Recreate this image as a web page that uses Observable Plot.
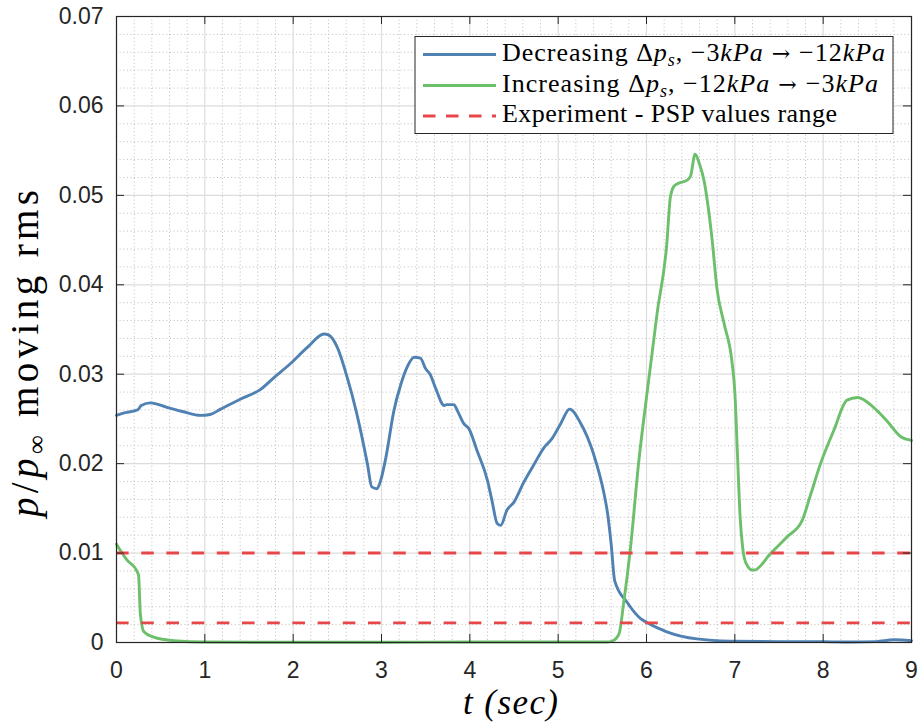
<!DOCTYPE html>
<html>
<head>
<meta charset="utf-8">
<script src="https://cdn.jsdelivr.net/npm/d3@7"></script>
<script src="https://cdn.jsdelivr.net/npm/@observablehq/plot@0.6"></script>
<style>
  html, body { margin: 0; padding: 0; background: #fff; }
</style>
</head>
<body>
<div id="chart"></div>
<script>
// ---- data ----
const decT = [0.00,0.10,0.20,0.25,0.28,0.385,0.57,0.76,0.95,1.06,1.18,1.40,1.63,1.78,1.97,2.16,2.35,2.40,2.50,2.61,2.72,2.84,2.89,2.95,2.99,3.05,3.14,3.22,3.29,3.37,3.44,3.50,3.55,3.61,3.71,3.74,3.82,3.86,3.93,3.99,4.08,4.20,4.25,4.31,4.35,4.42,4.50,4.61,4.72,4.84,4.93,5.03,5.13,5.25,5.40,5.52,5.56,5.60,5.64,5.78,5.93,6.01,6.23,6.57,6.95,7.5,8.0,8.3,8.6,8.8,9.0];
const decV = [0.0254,0.0257,0.0259,0.0261,0.0265,0.0268,0.0263,0.0258,0.0254,0.0255,0.0261,0.0272,0.0283,0.0296,0.0312,0.0330,0.0345,0.0344,0.0330,0.0297,0.0256,0.0200,0.0174,0.0172,0.0181,0.0207,0.0259,0.0289,0.0308,0.0319,0.0318,0.0306,0.0300,0.0285,0.0265,0.0266,0.0266,0.0259,0.0245,0.0239,0.0215,0.0181,0.0159,0.0133,0.0131,0.0148,0.0157,0.0179,0.0198,0.0218,0.0228,0.0245,0.0261,0.0246,0.0211,0.0166,0.0144,0.0110,0.0069,0.0045,0.0027,0.0022,0.0012,0.0004,0.00015,0.0001,0.0001,0.00005,0.0001,0.0003,0.0002];

const incT = [0.00,0.05,0.12,0.23,0.25,0.27,0.31,0.42,0.65,1.0,2.0,3.0,4.0,5.0,5.55,5.62,5.69,5.74,5.82,5.91,6.01,6.12,6.23,6.27,6.31,6.35,6.46,6.50,6.55,6.60,6.65,6.74,6.80,6.88,6.97,7.00,7.03,7.06,7.09,7.13,7.20,7.22,7.40,7.59,7.76,7.86,7.97,8.12,8.27,8.39,8.57,8.72,8.88,9.00];
const incV = [0.0110,0.0102,0.0092,0.0080,0.0075,0.0032,0.0012,0.0006,0.0002,0.00005,0.00003,0.00003,0.00005,0.00005,0.00005,0.0002,0.0010,0.0043,0.0107,0.0200,0.0282,0.0368,0.0446,0.0498,0.0510,0.0513,0.0517,0.0522,0.0546,0.0535,0.0517,0.0453,0.0394,0.0356,0.0312,0.0280,0.0210,0.0140,0.0105,0.0088,0.0081,0.0081,0.0099,0.0118,0.0136,0.0166,0.0200,0.0237,0.0271,0.0274,0.0263,0.0248,0.0230,0.0226];

const expLevels = [0.0100, 0.0022];

const xTicks = [0,1,2,3,4,5,6,7,8,9];
const yTicks = [0,0.01,0.02,0.03,0.04,0.05,0.06,0.07];
const xMinor = d3.range(0, 45).map(i => i * 0.2).filter((d, i) => i % 5 !== 0);
const yMinor = d3.range(0, 35).map(i => i * 0.002).filter((d, i) => i % 5 !== 0);

const blueC = "#4f81b3";
const greenC = "#6cbf6b";
const redC = "#e8474a";
const axisC = "#262626";

const dec = decT.map((t, i) => ({t, v: decV[i]}));
const inc = incT.map((t, i) => ({t, v: incV[i]}));

const W = 919, H = 726, mL = 116, mR = 8, mT = 16, mB = 84;
const plotH = H - mT - mB;
const plotW = W - mL - mR;
const tickLen = 8;

const svg = Plot.plot({
  width: W, height: H,
  marginLeft: mL, marginRight: mR, marginTop: mT, marginBottom: mB,
  style: {fontFamily: "'Liberation Sans', Arial, Helvetica, sans-serif", fontSize: "23px", color: axisC, background: "#fff"},
  x: {domain: [0, 9]},
  y: {domain: [0, 0.07]},
  marks: [
    // minor grid (dotted)
    Plot.ruleX(xMinor, {x: d => d, stroke: "#bdbdbd", strokeWidth: 1, strokeDasharray: "1,2.6"}),
    Plot.ruleY(yMinor, {y: d => d, stroke: "#bdbdbd", strokeWidth: 1, strokeDasharray: "1,2.6"}),
    // major grid
    Plot.ruleX(xTicks, {x: d => d, stroke: "#dcdcdc", strokeWidth: 1.2}),
    Plot.ruleY(yTicks, {y: d => d, stroke: "#dcdcdc", strokeWidth: 1.2}),
    // data
    Plot.line(dec, {x: "t", y: "v", stroke: blueC, strokeWidth: 2.9, curve: "monotone-x"}),
    Plot.line(inc, {x: "t", y: "v", stroke: greenC, strokeWidth: 2.9, curve: "monotone-x"}),
    Plot.ruleY(expLevels, {y: d => d, stroke: redC, strokeWidth: 2.9, strokeDasharray: "12.6,12.6"}),
    // inward ticks
    Plot.ruleX(xTicks, {x: d => d, insetTop: plotH - tickLen, stroke: axisC, strokeWidth: 1}),
    Plot.ruleX(xTicks, {x: d => d, insetBottom: plotH - tickLen, stroke: axisC, strokeWidth: 1}),
    Plot.ruleY(yTicks, {y: d => d, insetRight: plotW - tickLen, stroke: axisC, strokeWidth: 1}),
    Plot.ruleY(yTicks, {y: d => d, insetLeft: plotW - tickLen, stroke: axisC, strokeWidth: 1}),
    Plot.frame({stroke: axisC, strokeWidth: 1.2}),
    Plot.axisX({ticks: xTicks, tickSize: 0, tickPadding: 19, label: null, tickFormat: d => String(d)}),
    Plot.axisY({ticks: yTicks, tickSize: 0, tickPadding: 13, label: null, tickFormat: d => d === 0 ? "0" : d.toFixed(2)})
  ]
});

document.getElementById("chart").appendChild(svg);

// ---- axis titles (LaTeX-like) ----
const s = d3.select(svg);
const serif = "'Liberation Serif', 'Times New Roman', serif";
const arrowFont = "'DejaVu Serif', serif";

const xl = s.append("text")
  .attr("x", 463).attr("y", 714)
  .attr("text-anchor", "start")
  .attr("font-family", serif).attr("font-size", 35).attr("font-style", "italic")
  .attr("fill", "#000")
  .attr("textLength", 95).attr("lengthAdjust", "spacing");
xl.append("tspan").text("t (sec)");

const yl = s.append("text")
  .attr("transform", "translate(38,517) rotate(-90)")
  .attr("text-anchor", "start")
  .attr("font-family", serif).attr("font-size", 39)
  .attr("fill", "#000")
  .attr("textLength", 327).attr("lengthAdjust", "spacing");
yl.append("tspan").attr("font-style", "italic").text("p");
yl.append("tspan").text("/");
yl.append("tspan").attr("font-style", "italic").text("p");
yl.append("tspan").attr("font-size", 26).attr("dy", 7).text("∞");
yl.append("tspan").attr("dy", -7).text(" moving rms");

// ---- legend ----
const lg = s.append("g");
lg.append("rect").attr("x", 415).attr("y", 36.5).attr("width", 478).attr("height", 97)
  .attr("fill", "#fff").attr("stroke", axisC).attr("stroke-width", 1);

const rows = [
  {y: 54.5, base: 61, color: blueC, dash: null, len: 383,
   parts: [["Decreasing Δ", "n"], ["p", "i"], ["s", "sub"], [", −3", "n"], ["kPa", "i"], [" → ", "a"], ["−12", "n"], ["kPa", "i"]]},
  {y: 85.5, base: 91.5, color: greenC, dash: null, len: 376,
   parts: [["Increasing Δ", "n"], ["p", "i"], ["s", "sub"], [", −12", "n"], ["kPa", "i"], [" → ", "a"], ["−3", "n"], ["kPa", "i"]]},
  {y: 116, base: 122, color: redC, dash: "12.5,10.5", len: 335,
   parts: [["Experiment - PSP values range", "n"]]}
];
rows.forEach(r => {
  lg.append("line").attr("x1", 423).attr("x2", 496).attr("y1", r.y).attr("y2", r.y)
    .attr("stroke", r.color).attr("stroke-width", 2.9)
    .attr("stroke-dasharray", r.dash);
  const t = lg.append("text").attr("x", 502).attr("y", r.base)
    .attr("text-anchor", "start")
    .attr("font-family", serif).attr("font-size", 26).attr("fill", "#000")
    .attr("textLength", r.len).attr("lengthAdjust", "spacing");
  let shifted = false;
  r.parts.forEach(([txt, kind]) => {
    const sp = t.append("tspan").text(txt);
    if (kind === "i") sp.attr("font-style", "italic");
    if (kind === "a") sp.attr("font-family", arrowFont).attr("font-size", 22);
    if (kind === "sub") { sp.attr("font-style", "italic").attr("font-size", 18).attr("dy", 5); shifted = true; }
    else if (shifted) { sp.attr("dy", -5); shifted = false; }
  });
});
</script>
</body>
</html>
